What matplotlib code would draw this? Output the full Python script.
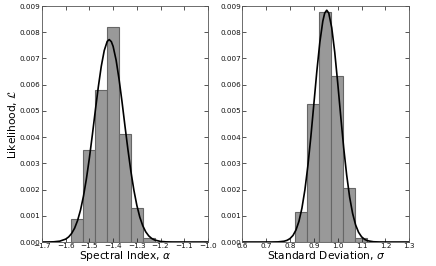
import numpy as np
import matplotlib
matplotlib.use('Agg')
import matplotlib.pyplot as plt

# =====================================================================
# DATA
# =====================================================================
alpha_edges = [-1.578, -1.527, -1.4765, -1.426, -1.375, -1.3246, -1.274, -1.222]
alpha_hist = [0.00088, 0.0035, 0.00579, 0.0082, 0.0041, 0.0013, 0.00014]

alpha_curve_x = [-1.70, -1.675, -1.65, -1.625, -1.60, -1.5875, -1.575, -1.5625,
                 -1.55, -1.5375, -1.525, -1.5125, -1.50, -1.4875, -1.475, -1.4625,
                 -1.45, -1.4375, -1.425, -1.4165, -1.4075, -1.40, -1.3875, -1.375,
                 -1.3625, -1.35, -1.3375, -1.325, -1.3125, -1.30, -1.2875, -1.275,
                 -1.2625, -1.25, -1.2375, -1.225, -1.20, -1.175, -1.15, -1.10, -1.00]
alpha_curve_y = [0.0, 0.0000017, 0.000008, 0.000032, 0.000111, 0.000194, 0.000326,
                 0.000526, 0.000817, 0.00122, 0.00175, 0.00242, 0.00321, 0.00409,
                 0.00502, 0.00591, 0.00670, 0.00730, 0.00765, 0.00772, 0.00764,
                 0.00746, 0.00694, 0.00621, 0.00535, 0.00442, 0.00352, 0.00269,
                 0.00198, 0.00140, 0.000949, 0.000620, 0.000389, 0.000235, 0.000136,
                 0.000076, 0.000021, 0.000005, 0.000001, 0.0, 0.0]

sigma_edges = [0.8209, 0.8712, 0.9227, 0.973, 1.0233, 1.0736, 1.1239]
sigma_hist = [0.00116, 0.00527, 0.00879, 0.00634, 0.00206, 0.00015]

sigma_curve_x = [0.60, 0.70, 0.725, 0.75, 0.775, 0.7875, 0.80, 0.8125, 0.825, 0.8375,
                 0.85, 0.8625, 0.875, 0.8875, 0.90, 0.9125, 0.925, 0.9375, 0.9455,
                 0.954, 0.9625, 0.975, 0.9875, 1.00, 1.0125, 1.025, 1.0375, 1.05,
                 1.0625, 1.075, 1.0875, 1.10, 1.1125, 1.125, 1.15, 1.175, 1.20, 1.30]
sigma_curve_y = [0.0, 0.0, 0.0000008, 0.0000054, 0.0000295, 0.0000636, 0.00013,
                 0.00025, 0.000457, 0.000789, 0.00129, 0.00199, 0.00291, 0.00402,
                 0.00526, 0.00651, 0.00761, 0.00842, 0.00873, 0.00884, 0.00873,
                 0.00817, 0.00724, 0.00607, 0.00481, 0.00360, 0.00256, 0.00171,
                 0.00109, 0.000652, 0.000370, 0.000199, 0.000101, 0.0000485,
                 0.0000095, 0.0000015, 0.0, 0.0]

alpha_ticks = [-1.7, -1.6, -1.5, -1.4, -1.3, -1.2, -1.1, -1.0]
sigma_ticks = [0.6, 0.7, 0.8, 0.9, 1.0, 1.1, 1.2, 1.3]
y_ticks = [0.000, 0.001, 0.002, 0.003, 0.004, 0.005, 0.006, 0.007, 0.008, 0.009]

# =====================================================================
# PLOT
# =====================================================================
fig = plt.figure(figsize=(4.36, 2.66), dpi=100, facecolor='white')
ax1 = fig.add_axes([0.0963, 0.0902, 0.3807, 0.8872])
ax2 = fig.add_axes([0.5557, 0.0902, 0.3830, 0.8872])

panels = [
    (ax1, alpha_edges, alpha_hist, alpha_curve_x, alpha_curve_y, alpha_ticks,
     (-1.7, -1.0), 'Spectral Index, $\\alpha$'),
    (ax2, sigma_edges, sigma_hist, sigma_curve_x, sigma_curve_y, sigma_ticks,
     (0.6, 1.3), 'Standard Deviation, $\\sigma$'),
]

for ax, edges, hist, cx, cy, xt, xlim, xlabel in panels:
    ax.bar(edges[:-1], hist, width=np.diff(edges), align='edge',
           facecolor='#999999', edgecolor='#666666', linewidth=0.8)
    ax.plot(cx, cy, '-', color='black', linewidth=1.2)
    ax.set_xlim(*xlim)
    ax.set_ylim(0, 0.009)
    ax.set_xticks(xt)
    ax.set_xticklabels(['%.1f' % v if v >= 0 else '\u2212%.1f' % -v for v in xt])
    ax.set_yticks(y_ticks)
    ax.set_yticklabels(['%.3f' % v for v in y_ticks])
    ax.tick_params(direction='in', top=True, right=True, length=3, width=0.5,
                   labelsize=5.2, pad=1, colors='#111111')
    for s in ax.spines.values():
        s.set_linewidth(0.6)
        s.set_color('#555555')
    ax.set_xlabel(xlabel, fontsize=7.7, labelpad=0)

ax1.set_ylabel('Likelihood, $\\mathcal{L}$', fontsize=7.7, labelpad=0.5)

fig.savefig('out.png', dpi=100)
plt.close(fig)
